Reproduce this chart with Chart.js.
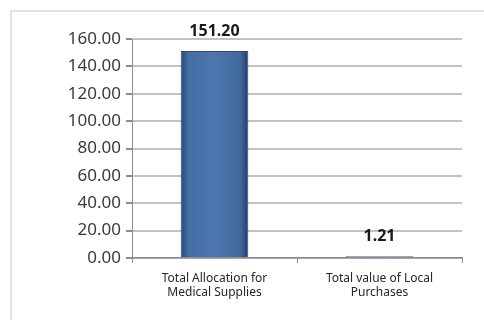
<!DOCTYPE html>
<html>
<head>
<meta charset="utf-8">
<script src="https://cdn.jsdelivr.net/npm/chart.js@4"></script>
<style>
  html, body { margin: 0; padding: 0; background: #fff; }
  body { width: 484px; height: 320px; position: relative; overflow: hidden; }
  .frame { position: absolute; left: 10px; top: 10px; width: 500px; height: 340px; border: 2px solid #e3e3e3; }
  #chart { position: absolute; left: 0; top: 0; }
</style>
</head>
<body>
<div class="frame"></div>
<canvas id="chart" width="484" height="320"></canvas>
<script>
// 데이터
const categories = [['Total Allocation for', 'Medical Supplies'], ['Total value of Local', 'Purchases']];
const values = [151.20, 1.21];
const yTicks = [0, 20, 40, 60, 80, 100, 120, 140, 160];

const FONT = '"Noto Sans", sans-serif';

// 막대 위 값 표시
const valueLabels = {
  id: 'valueLabels',
  afterDatasetsDraw(chart) {
    const ctx = chart.ctx;
    const meta = chart.getDatasetMeta(0);
    ctx.save();
    ctx.font = 'bold 16px ' + FONT;
    ctx.fillStyle = '#1a1a1a';
    ctx.textAlign = 'center';
    ctx.textBaseline = 'middle';
    meta.data.forEach((bar, i) => {
      ctx.fillText(values[i].toFixed(2), bar.x, bar.y - 20);
    });
    ctx.restore();
  },
};

// 막대 그라데이션 (가장자리 어둡게)
const barFill = (c) => {
  const chart = c.chart;
  const xs = chart.scales.x;
  if (!xs || xs.left === undefined) return '#4a72a8';
  const cx = xs.getPixelForValue(c.dataIndex);
  const half = (xs.width / categories.length) * 0.41 / 2;
  const g = chart.ctx.createLinearGradient(cx - half, 0, cx + half, 0);
  g.addColorStop(0, '#27477a');
  g.addColorStop(0.12, '#456ea6');
  g.addColorStop(0.5, '#4c76ad');
  g.addColorStop(0.88, '#416aa0');
  g.addColorStop(1, '#213d68');
  return g;
};

new Chart(document.getElementById('chart'), {
  type: 'bar',
  data: {
    labels: categories,
    datasets: [{
      data: values,
      backgroundColor: barFill,
      borderColor: '#2a4776',
      borderWidth: 1,
      categoryPercentage: 0.41,
      barPercentage: 1,
    }],
  },
  options: {
    responsive: false,
    animation: false,
    events: [],
    layout: { padding: { left: 0, top: 39, right: 22, bottom: 0 } },
    plugins: { legend: { display: false }, tooltip: { enabled: false } },
    scales: {
      x: {
        grid: { display: true, drawOnChartArea: false, offset: true, color: '#8c8c8c', tickLength: 5 },
        border: { color: '#8c8c8c', width: 1.5 },
        ticks: { color: '#262626', font: { family: FONT, size: 12 }, padding: 8, maxRotation: 0 },
        afterFit: (s) => { s.height = 62; },
      },
      y: {
        min: 0,
        max: 160,
        afterBuildTicks: (s) => { s.ticks = yTicks.map((v) => ({ value: v })); },
        grid: { color: '#c2c2c2', lineWidth: 2, tickLength: 6, tickColor: '#8c8c8c' },
        border: { color: '#8c8c8c', width: 1 },
        ticks: {
          color: '#3a3a3a',
          font: { family: FONT, size: 17 },
          padding: 5,
          callback: (v) => v.toFixed(2),
        },
        afterFit: (s) => { s.width = 132; },
      },
    },
  },
  plugins: [valueLabels],
});
</script>
</body>
</html>
